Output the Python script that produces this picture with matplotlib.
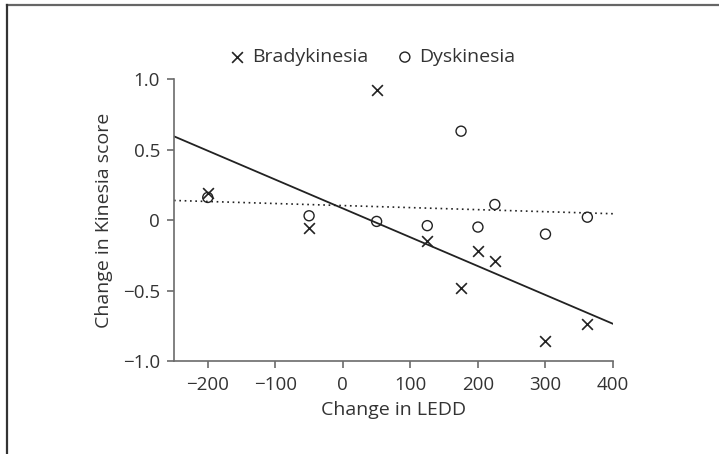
import matplotlib.pyplot as plt
from matplotlib.lines import Line2D
import numpy as np

plt.rcParams['font.family'] = ['Open Sans', 'DejaVu Sans']

# Change in LEDD for each patient
ledd = [-200, -50, 50, 125, 175, 200, 225, 300, 362]
# Change in Kinesia score
brady = [0.19, -0.06, 0.92, -0.15, -0.48, -0.22, -0.29, -0.86, -0.74]
dysk = [0.16, 0.03, -0.01, -0.04, 0.63, -0.05, 0.11, -0.10, 0.02]

xticks = [-200, -100, 0, 100, 200, 300, 400]
yticks = [-1.0, -0.5, 0, 0.5, 1.0]
ytick_labels = ['\u22121.0', '\u22120.5', '0', '0.5', '1.0']

fig = plt.figure(figsize=(7.19, 4.54), dpi=100)
ax = fig.add_axes([0.242, 0.2048, 0.6106, 0.6212])

ink = '#222222'
grey = '#6b6b6b'

ax.scatter(ledd, brady, marker='x', s=60, color=ink, linewidths=1.2, label='Bradykinesia', zorder=3)
ax.scatter(ledd, dysk, marker='o', s=52, facecolors='none', edgecolors=ink, linewidths=1.0, label='Dyskinesia', zorder=3)

# linear fits over the axis range
xx = np.array([-250, 400])
b1 = np.polyfit(ledd, brady, 1)
b2 = np.polyfit(ledd, dysk, 1)
ax.plot(xx, np.polyval(b1, xx), color=ink, linewidth=1.3)
ax.plot(xx, np.polyval(b2, xx), color=ink, linewidth=1.2, linestyle=(0, (1, 2.2)))

ax.set_xlim(-250, 400)
ax.set_ylim(-1.0, 1.0)
ax.set_xticks(xticks)
ax.set_yticks(yticks)
ax.set_yticklabels(ytick_labels)

for s in ['top', 'right']:
    ax.spines[s].set_visible(False)
for s in ['left', 'bottom']:
    ax.spines[s].set_color(grey)
    ax.spines[s].set_linewidth(1.2)
ax.tick_params(direction='out', length=5, width=1.2, color=grey, labelsize=13.5, labelcolor='#333333', pad=6)
ax.tick_params(axis='y', pad=5)

ax.set_xlabel('Change in LEDD', fontsize=14, color='#333333', labelpad=5)
ax.set_ylabel('Change in Kinesia score', fontsize=14, color='#333333', labelpad=7)

fig.legend(loc='center', bbox_to_anchor=(0.518, 0.874), ncol=2, frameon=False,
           fontsize=14, handlelength=0.8, handletextpad=0.35, columnspacing=1.5, labelcolor='#333333')

# outer frame on top and left
fig.add_artist(Line2D([0.0097, 1.0], [0.988, 0.988], transform=fig.transFigure, color='#666666', linewidth=1.6))
fig.add_artist(Line2D([0.0097, 0.0097], [0.0, 0.988], transform=fig.transFigure, color='#333333', linewidth=1.6))

fig.savefig('out.png', dpi=100)
